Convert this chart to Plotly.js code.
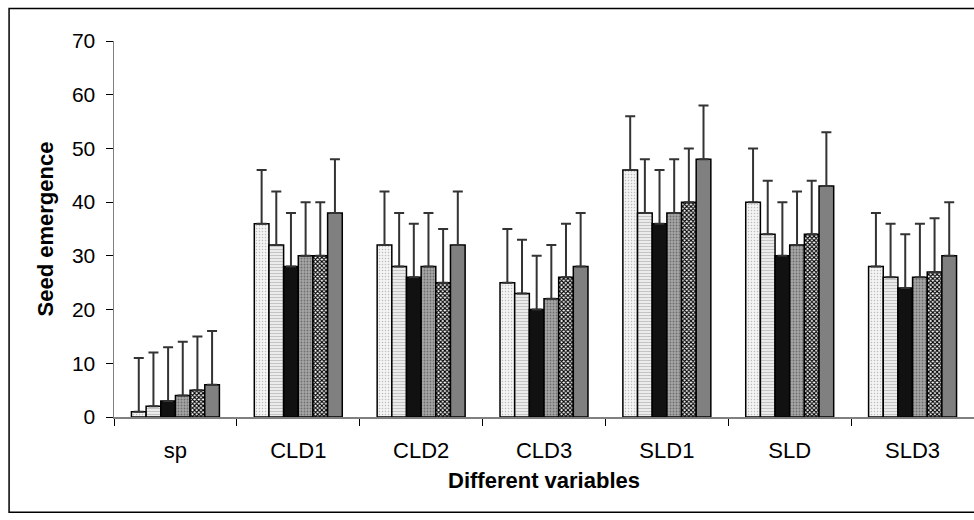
<!DOCTYPE html>
<html>
<head>
<meta charset="utf-8">
<script src="https://cdn.plot.ly/plotly-3.0.1.min.js"></script>
<style>html,body{margin:0;padding:0;background:#fff;}#chart{width:974px;height:520px;}</style>
</head>
<body>
<div id="chart"></div>
<script>
var categories = ["sp", "CLD1", "CLD2", "CLD3", "SLD1", "SLD", "SLD3"];
var series1 = [1, 36, 32, 25, 46, 40, 28];
var series2 = [2, 32, 28, 23, 38, 34, 26];
var series3 = [3, 28, 26, 20, 36, 30, 24];
var series4 = [4, 30, 28, 22, 38, 32, 26];
var series5 = [5, 30, 25, 26, 40, 34, 27];
var series6 = [6, 38, 32, 28, 48, 43, 30];
var errUp = [10, 10, 10, 10, 10, 10, 10];
var yTicks = [0, 10, 20, 30, 40, 50, 60, 70];

var styles = [
  {color: "#f0f0f0", pattern: {shape: ".", bgcolor: "#f4f4f4", fgcolor: "#bcbcbc", size: 3, solidity: 0.2}},
  {color: "#f0f0f0", pattern: {shape: "-", bgcolor: "#f8f8f8", fgcolor: "#c4c4c4", size: 3, solidity: 0.5}},
  {color: "#111111"},
  {color: "#999999", pattern: {shape: ".", bgcolor: "#a6a6a6", fgcolor: "#6e6e6e", size: 3, solidity: 0.3}},
  {color: "#ffffff", pattern: {shape: "x", bgcolor: "#ffffff", fgcolor: "#000000", size: 3, solidity: 0.6}},
  {color: "#808080"}
];
var allSeries = [series1, series2, series3, series4, series5, series6];

var traces = allSeries.map(function (vals, i) {
  var m = {color: styles[i].color, line: {color: "#000", width: 1.5}};
  if (styles[i].pattern) m.pattern = styles[i].pattern;
  return {
    type: "bar",
    x: categories,
    y: vals,
    marker: m,
    error_y: {type: "data", symmetric: false, array: errUp, arrayminus: errUp.map(function(){return 0;}),
              color: "#333", thickness: 2, width: 5},
    showlegend: false,
    hoverinfo: "none"
  };
});

var font = {family: "Liberation Sans, Arial, sans-serif", color: "#000"};

var layout = {
  width: 974, height: 520,
  margin: {l: 114, r: 0, t: 41, b: 103, pad: 0},
  paper_bgcolor: "#fff", plot_bgcolor: "#fff",
  barmode: "group",
  bargap: 0.284, bargroupgap: 0,
  font: font,
  xaxis: {
    type: "category",
    tickson: "boundaries",
    ticks: "outside", ticklen: 7, tickcolor: "#000", tickwidth: 1,
    showline: true, linecolor: "#808080", linewidth: 1.5,
    showgrid: false, zeroline: false,
    tickfont: {family: font.family, size: 22, color: "#000"},
    ticklabelstandoff: 13,
    title: {text: "Different variables", font: {family: font.family, size: 22, color: "#000", weight: "bold"}, standoff: 10}
  },
  yaxis: {
    range: [0, 70],
    tickvals: yTicks,
    ticks: "outside", ticklen: 7, tickcolor: "#000", tickwidth: 1,
    showline: true, linecolor: "#808080", linewidth: 1.5,
    showgrid: false, zeroline: false,
    tickfont: {family: font.family, size: 21, color: "#000"},
    ticklabelstandoff: 6,
    title: {text: "Seed emergence", font: {family: font.family, size: 22, color: "#000", weight: "bold"}, standoff: 12}
  },
  shapes: [{
    type: "rect", xref: "paper", yref: "paper",
    x0: -0.122, x1: 1.06, y0: -0.253, y1: 1.0865,
    line: {color: "#000", width: 1.5}, fillcolor: "rgba(0,0,0,0)", layer: "below"
  }]
};

Plotly.newPlot("chart", traces, layout, {staticPlot: true});
</script>
</body>
</html>
